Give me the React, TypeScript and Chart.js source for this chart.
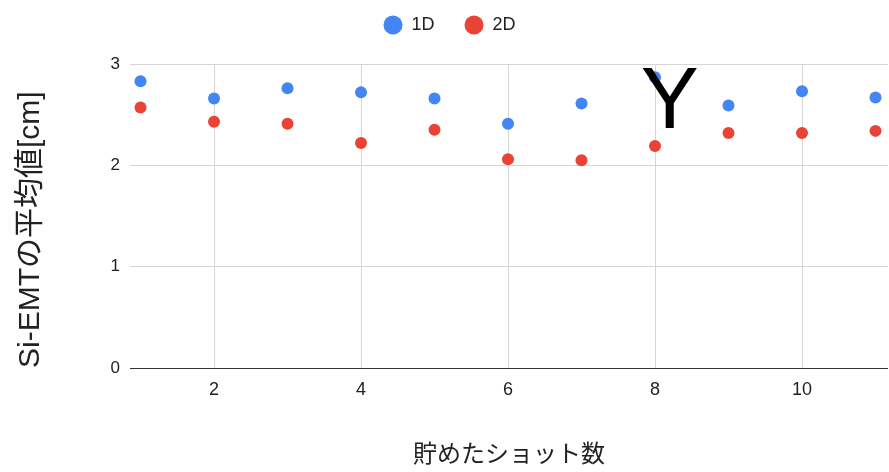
import React, { useEffect, useRef } from "react";
import { Chart, registerables } from "chart.js";

Chart.register(...registerables);

const shots: number[] = [1, 2, 3, 4, 5, 6, 7, 8, 9, 10, 11];
const values1D: number[] = [2.83, 2.66, 2.76, 2.72, 2.66, 2.41, 2.61, 2.87, 2.59, 2.73, 2.67];
const values2D: number[] = [2.57, 2.43, 2.41, 2.22, 2.35, 2.06, 2.05, 2.19, 2.32, 2.32, 2.34];
const xTickValues: number[] = [2, 4, 6, 8, 10];
const yTickValues: number[] = [0, 1, 2, 3];
const seriesNames: string[] = ["1D", "2D"];
const xTitle = "貯めたショット数";
const yTitle = "Si-EMTの平均値[cm]";
const noteText = "Y";
const noteX = 8.2;
const noteY = 2.37;

const FONT = "Arial, 'Liberation Sans', 'Noto Sans CJK JP', sans-serif";

export default function App() {
  const ref = useRef<HTMLCanvasElement | null>(null);

  useEffect(() => {
    if (!ref.current) return;
    const legendHeight = {
      id: "legendHeight",
      beforeInit(chart: any) {
        const lg = chart.legend;
        if (lg) {
          const orig = lg.fit;
          lg.fit = function () {
            orig.call(this);
            this.height = 78;
          };
        }
      },
    };
    const notePlugin = {
      id: "note",
      afterDatasetsDraw(chart: any) {
        const { ctx, scales } = chart;
        const px = scales.x.getPixelForValue(noteX);
        const py = scales.y.getPixelForValue(noteY);
        ctx.save();
        ctx.font = `87px ${FONT}`;
        ctx.fillStyle = "#000";
        ctx.textAlign = "center";
        ctx.textBaseline = "alphabetic";
        ctx.fillText(noteText, px, py);
        ctx.restore();
      },
    };
    const chart = new Chart(ref.current, {
      type: "scatter",
      data: {
        datasets: [
          {
            label: seriesNames[0],
            data: shots.map((x, i) => ({ x, y: values1D[i] })),
            backgroundColor: "#4285F4",
            borderColor: "#4285F4",
            pointRadius: 6,
            borderWidth: 0,
          },
          {
            label: seriesNames[1],
            data: shots.map((x, i) => ({ x, y: values2D[i] })),
            backgroundColor: "#EA4335",
            borderColor: "#EA4335",
            pointRadius: 6,
            borderWidth: 0,
          },
        ],
      },
      plugins: [legendHeight, notePlugin],
      options: {
        responsive: false,
        animation: false,
        layout: { autoPadding: false, padding: { top: -14, left: 11, right: 1, bottom: 0 } },
        plugins: {
          tooltip: { enabled: false },
          legend: {
            position: "top",
            align: "center",
            labels: {
              usePointStyle: true,
              pointStyle: "circle",
              boxHeight: 13.4,
              pointStyleWidth: 19,
              padding: 30,
              color: "#222",
              font: { size: 18, family: FONT },
            },
          },
        },
        scales: {
          x: {
            type: "linear",
            min: 0.857,
            max: 11.17,
            afterBuildTicks: (s: any) => {
              s.ticks = xTickValues.map((v) => ({ value: v }));
            },
            afterFit: (s: any) => {
              s.height = 104;
              s.paddingLeft = 0;
              s.paddingRight = 0;
            },
            border: { display: false },
            grid: { color: "#d6d6d6", drawTicks: false, lineWidth: 1 },
            ticks: {
              padding: 11,
              color: "#222",
              font: { size: 18, family: FONT },
              maxRotation: 0,
            },
            title: {
              display: true,
              text: xTitle,
              color: "#222",
              font: { size: 24, family: FONT },
              padding: { top: 0, bottom: 2 },
            },
          },
          y: {
            type: "linear",
            min: 0,
            max: 3,
            afterBuildTicks: (s: any) => {
              s.ticks = yTickValues.map((v) => ({ value: v }));
            },
            afterFit: (s: any) => {
              s.width = 119;
            },
            border: { display: false },
            grid: {
              color: (c: any) => (c.tick && c.tick.value === 0 ? "#333" : "#d6d6d6"),
              drawTicks: false,
              lineWidth: 1,
            },
            ticks: {
              padding: 10,
              color: "#222",
              font: { size: 17, family: FONT },
            },
            title: {
              display: true,
              text: yTitle,
              align: "start",
              color: "#222",
              font: { size: 30, family: FONT },
              padding: { top: 2, bottom: 0 },
            },
          },
        },
      },
    });
    return () => chart.destroy();
  }, []);

  return (
    <div style={{ position: "absolute", left: 0, top: 0, width: 889, height: 472 }}>
      <canvas ref={ref} width={889} height={472} style={{ display: "block" }} />
    </div>
  );
}
